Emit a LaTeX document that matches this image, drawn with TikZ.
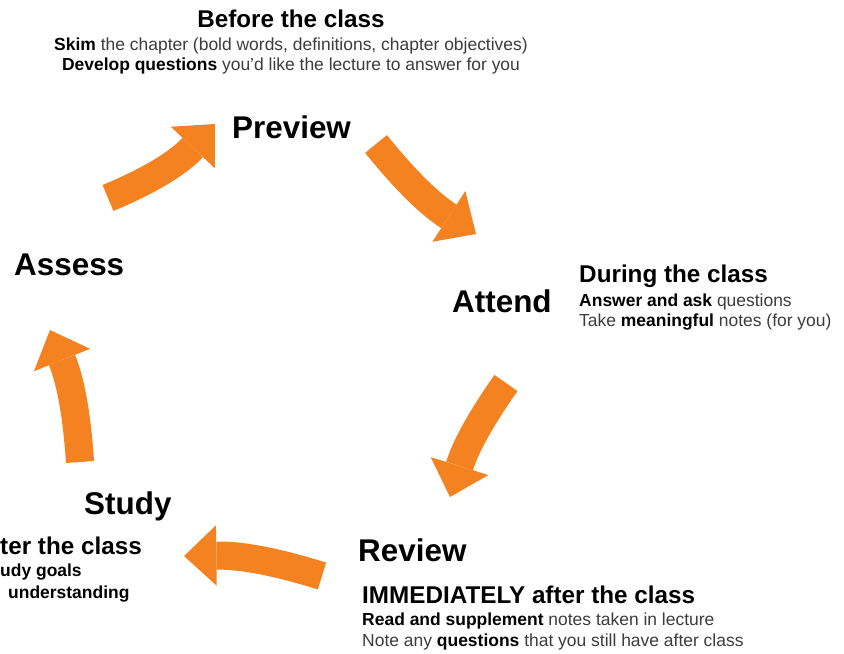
\documentclass[tikz,border=0pt]{standalone}
\usepackage{fontspec}
\setmainfont{Liberation Sans}
\usetikzlibrary{arrows.meta}

\definecolor{cycleorange}{RGB}{245,130,32}
\definecolor{notegray}{RGB}{60,60,60}
\newcommand{\hl}[1]{\textbf{\color{black}#1}}

\tikzset{
  stage/.style={inner sep=0pt, anchor=base west, font=\fontsize{26.8}{32}\selectfont\bfseries},
  when/.style={inner sep=0pt, anchor=base west, font=\fontsize{20.7}{24}\selectfont\bfseries},
  note/.style={inner sep=0pt, anchor=base west, text=notegray, font=\fontsize{14.9}{18}\selectfont},
  looparrow/.style={draw=cycleorange, line width=24pt,
    -{Triangle[length=0pt 1.15, width=0pt 2.15, line width=0pt, fill=cycleorange]}}
}

\begin{document}
\begin{tikzpicture}[x=0.03cm, y=-0.03cm]
	\useasboundingbox (0,0) rectangle (844,654);
	\clip (0,0) rectangle (844,654);

	% stages
	\node[stage] (preview) at (232,139) {Preview};
	\node[stage] (attend) at (452,313) {Attend};
	\node[stage] (review) at (358,561) {Review};
	\node[stage] (study) at (84,514) {Study};
	\node[stage] (assess) at (14,276) {Assess};

	% before
	\node[when, anchor=base] (before) at (291,28) {Before the class};
	\node[note, anchor=base] (skim) at (291,51) {\hl{Skim} the chapter (bold words, definitions, chapter objectives)};
	\node[note, anchor=base] (develop) at (291,71) {\hl{Develop questions} you'd like the lecture to answer for you};

	% during
	\node[when] (during) at (579,283) {During the class};
	\node[note] (answer) at (579,306) {\hl{Answer and ask} questions};
	\node[note] (take) at (579,327) {Take \hl{meaningful} notes (for you)};

	% immediately
	\node[when] (immed) at (362,603) {IMMEDIATELY after the class};
	\node[note] (read) at (362,625) {\hl{Read and supplement} notes taken in lecture};
	\node[note] (noteq) at (362,646) {Note any \hl{questions} that you still have after class};

	% after
	\node[when] (after) at (0,554) {ter the class};
	\node[note] (goals) at (0,576) {\hl{udy goals}};
	\node[note] (understand) at (8,598) {\hl{understanding}};

	% arrows
	\coordinate (a1s) at (108,198);
	\coordinate (a1e) at (215,124);
	\coordinate (a2s) at (376,144);
	\coordinate (a2e) at (476,234);
	\coordinate (a3s) at (506,383);
	\coordinate (a3e) at (450,497);
	\coordinate (a4s) at (322,576);
	\coordinate (a4e) at (184,556);
	\coordinate (a5s) at (80,462);
	\coordinate (a5e) at (50,330);

	\draw[looparrow] (a1s) to[bend right=12] (a1e);
	\draw[looparrow] (a2s) to[bend right=9] (a2e);
	\draw[looparrow] (a3s) to[bend right=9] (a3e);
	\draw[looparrow] (a4s) to[bend right=9] (a4e);
	\draw[looparrow] (a5s) to[bend right=9] (a5e);
\end{tikzpicture}
\end{document}
